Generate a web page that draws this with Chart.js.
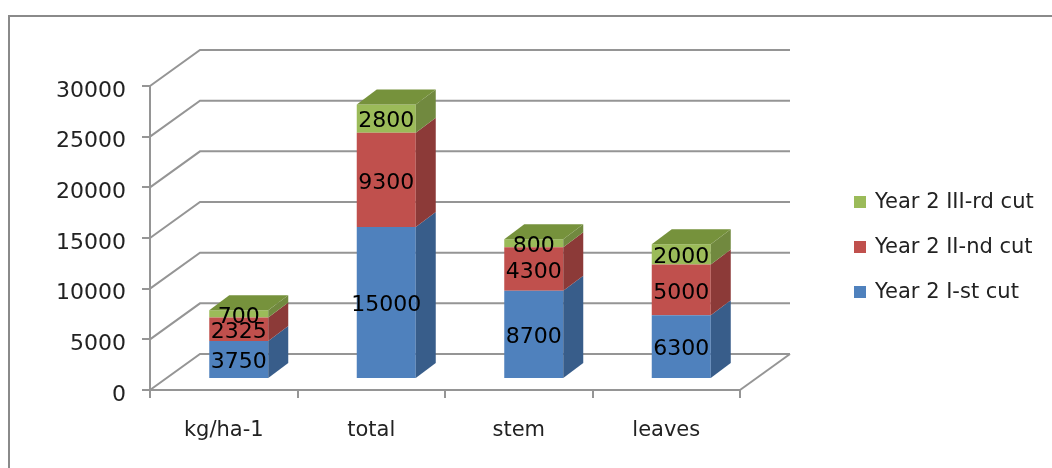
<!DOCTYPE html>
<html>
<head>
<meta charset="utf-8">
<script src="https://cdn.jsdelivr.net/npm/chart.js@4/dist/chart.umd.min.js"></script>
<style>
  html, body { margin: 0; padding: 0; background: #fff; }
  #wrap { width: 1052px; height: 468px; }
</style>
</head>
<body>
<div id="wrap"><canvas id="cutChart" width="1052" height="468"></canvas></div>
<script>
// data
const categories = ['kg/ha-1', 'total', 'stem', 'leaves'];
const cutOne = [3750, 15000, 8700, 6300];
const cutTwo = [2325, 9300, 4300, 5000];
const cutThree = [700, 2800, 800, 2000];
const seriesNames = ['Year 2 I-st cut', 'Year 2 II-nd cut', 'Year 2 III-rd cut'];
const yMax = 30000;
const yStep = 5000;

// look
const fronts = ['#4F81BD', '#C0504D', '#9BBB59'];
const sides = ['#385D8A', '#8C3A38', '#71893F'];
const topColor = '#76923C';
const gridColor = '#959595';
const wallDepth = { x: 50, y: -36 };   // back wall offset
const barShift = { x: 15, y: -11 };    // bars sit inside the floor
const barDepth = { x: 20, y: -15 };    // thickness of a column

Chart.defaults.font.family = 'DejaVu Sans';
Chart.defaults.font.size = 21;
Chart.defaults.color = '#222';

const fake3d = {
  id: 'fake3d',
  beforeDraw(chart) {
    const ctx = chart.ctx;
    ctx.save();
    ctx.strokeStyle = '#8a8a8a';
    ctx.lineWidth = 2;
    ctx.strokeRect(9, 16, 1100, 500);
    ctx.restore();
  },
  beforeDatasetsDraw(chart) {
    const { ctx, chartArea: a, scales: { y } } = chart;
    ctx.save();
    ctx.strokeStyle = gridColor;
    ctx.lineWidth = 2;
    y.ticks.forEach(t => {
      const py = y.getPixelForValue(t.value);
      ctx.beginPath();
      ctx.moveTo(a.left, py);
      ctx.lineTo(a.left + wallDepth.x, py + wallDepth.y);
      ctx.lineTo(a.right + wallDepth.x, py + wallDepth.y);
      ctx.stroke();
    });
    // right edge of the floor
    ctx.beginPath();
    ctx.moveTo(a.right, a.bottom);
    ctx.lineTo(a.right + wallDepth.x, a.bottom + wallDepth.y);
    ctx.stroke();
    ctx.restore();

    ctx.save();
    ctx.translate(barShift.x, barShift.y);
  },
  afterDatasetsDraw(chart) {
    const ctx = chart.ctx;
    const last = chart.data.datasets.length - 1;
    chart.data.datasets.forEach((ds, i) => {
      chart.getDatasetMeta(i).data.forEach(bar => {
        const p = bar.getProps(['x', 'y', 'base', 'width'], true);
        const l = p.x - p.width / 2, r = p.x + p.width / 2;
        ctx.fillStyle = sides[i];
        ctx.beginPath();
        ctx.moveTo(r, p.y);
        ctx.lineTo(r + barDepth.x, p.y + barDepth.y);
        ctx.lineTo(r + barDepth.x, p.base + barDepth.y);
        ctx.lineTo(r, p.base);
        ctx.closePath();
        ctx.fill();
        if (i === last) {
          ctx.fillStyle = topColor;
          ctx.beginPath();
          ctx.moveTo(l, p.y);
          ctx.lineTo(l + barDepth.x, p.y + barDepth.y);
          ctx.lineTo(r + barDepth.x, p.y + barDepth.y);
          ctx.lineTo(r, p.y);
          ctx.closePath();
          ctx.fill();
        }
      });
    });
    // value labels on the front faces
    ctx.fillStyle = '#000';
    ctx.font = '22px "DejaVu Sans"';
    ctx.textAlign = 'center';
    ctx.textBaseline = 'middle';
    chart.data.datasets.forEach((ds, i) => {
      chart.getDatasetMeta(i).data.forEach((bar, j) => {
        const p = bar.getProps(['x', 'y', 'base'], true);
        ctx.fillText(String(ds.data[j]), p.x, (p.y + p.base) / 2 + 3);
      });
    });
    ctx.restore();
  },
  afterDraw(chart) {
    // legend, top to bottom: III, II, I
    const ctx = chart.ctx;
    ctx.save();
    ctx.font = '21px "DejaVu Sans"';
    ctx.textBaseline = 'middle';
    ctx.textAlign = 'left';
    for (let k = 0; k < 3; k++) {
      const i = 2 - k;
      const cy = 202 + k * 45;
      ctx.fillStyle = fronts[i];
      ctx.fillRect(854, cy - 6, 12, 12);
      ctx.fillStyle = '#222';
      ctx.fillText(seriesNames[i], 875, cy + 1);
    }
    ctx.restore();
  }
};

new Chart(document.getElementById('cutChart'), {
  type: 'bar',
  data: {
    labels: categories,
    datasets: [cutOne, cutTwo, cutThree].map((d, i) => ({
      label: seriesNames[i],
      data: d,
      backgroundColor: fronts[i],
      borderWidth: 0,
      categoryPercentage: 0.4,
      barPercentage: 1,
      clip: false
    }))
  },
  options: {
    responsive: false,
    animation: false,
    layout: { padding: { top: 86, right: 312, left: 0, bottom: 0 } },
    plugins: {
      legend: { display: false },
      tooltip: { enabled: false }
    },
    scales: {
      x: {
        stacked: true,
        afterFit: s => { s.height = 78; },
        grid: { offset: true, drawOnChartArea: false, tickLength: 8, color: gridColor, lineWidth: 2 },
        border: { color: gridColor, width: 2 },
        ticks: { padding: 20 }
      },
      y: {
        stacked: true,
        min: 0,
        max: yMax,
        afterFit: s => { s.width = 150; },
        grid: { drawOnChartArea: false, tickLength: 8, color: gridColor, lineWidth: 2 },
        border: { color: gridColor, width: 2 },
        ticks: { stepSize: yStep, padding: 16, labelOffset: 5, font: { size: 22 }, callback: v => String(v) }
      }
    }
  },
  plugins: [fake3d]
});
</script>
</body>
</html>
